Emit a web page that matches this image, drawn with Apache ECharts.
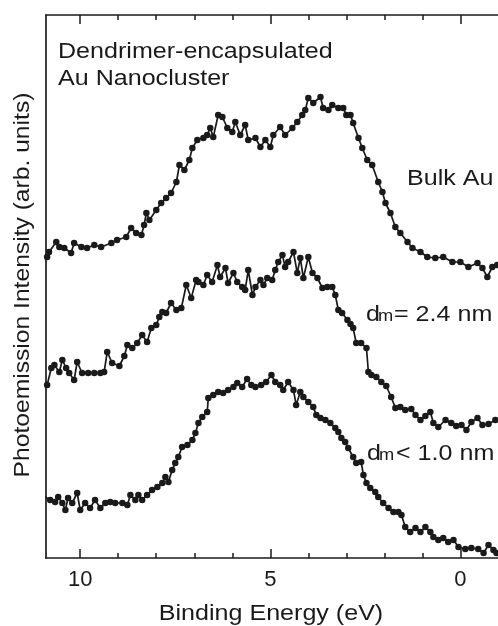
<!DOCTYPE html>
<html>
<head>
<meta charset="utf-8">
<script src="https://cdn.jsdelivr.net/npm/echarts@6/dist/echarts.min.js"></script>
<style>
  html, body { margin: 0; padding: 0; background: #fff; }
  #chart { width: 498px; height: 626px; }
</style>
</head>
<body>
<div id="chart"></div>
<script>
// binding energy (eV) and intensity (arb. units)
const bulkE = [10.87,10.82,10.63,10.55,10.42,10.24,10.16,9.97,9.82,9.63,9.45,9.18,9.03,8.79,8.66,8.53,8.39,8.32,8.26,8.18,8.00,7.87,7.74,7.61,7.47,7.39,7.26,7.13,7.05,6.92,6.76,6.66,6.58,6.50,6.37,6.26,6.13,6.00,5.92,5.79,5.66,5.58,5.39,5.26,5.13,5.00,4.92,4.74,4.61,4.42,4.29,4.16,4.08,4.00,3.87,3.68,3.61,3.47,3.37,3.21,3.08,3.00,2.89,2.82,2.68,2.58,2.45,2.32,2.16,2.05,1.97,1.84,1.71,1.58,1.39,1.26,1.05,0.87,0.66,0.45,0.21,0.00,-0.21,-0.45,-0.58,-0.71,-0.84,-0.97];
const bulkI = [301,306,316,311,310,305,315,311,310,313,311,315,318,321,330,325,323,333,345,338,348,355,360,365,376,393,388,398,410,418,420,423,430,421,443,441,430,426,436,423,433,418,420,411,418,411,423,431,423,430,436,443,448,460,455,461,450,448,453,450,450,443,443,435,420,410,398,393,376,366,355,345,331,325,316,310,306,301,300,301,296,296,291,295,290,281,291,293];

const d24E = [10.87,10.76,10.68,10.55,10.47,10.37,10.29,10.16,10.08,9.95,9.79,9.63,9.47,9.37,9.29,9.16,8.97,8.84,8.76,8.63,8.50,8.37,8.24,8.13,8.00,7.92,7.84,7.74,7.61,7.47,7.34,7.21,7.08,6.95,6.89,6.76,6.66,6.53,6.39,6.32,6.18,6.11,5.97,5.87,5.74,5.66,5.58,5.47,5.39,5.26,5.18,5.08,4.95,4.87,4.79,4.68,4.61,4.53,4.39,4.29,4.21,4.13,4.00,3.89,3.76,3.63,3.50,3.37,3.29,3.21,3.11,2.97,2.89,2.82,2.74,2.61,2.47,2.42,2.34,2.21,2.08,1.95,1.82,1.71,1.58,1.45,1.29,1.18,1.05,0.92,0.79,0.71,0.58,0.39,0.24,0.11,-0.03,-0.16,-0.29,-0.45,-0.58,-0.74,-0.92];
const d24I = [173,190,193,186,198,190,185,178,196,185,185,185,185,186,206,195,192,202,213,210,215,223,216,230,233,241,246,245,255,248,250,273,260,278,276,273,283,276,293,281,290,275,285,276,271,268,288,263,271,278,273,280,278,288,296,303,291,296,306,285,300,280,301,285,280,270,271,271,263,248,245,238,234,230,215,215,210,186,183,181,176,172,161,150,151,148,149,143,138,142,146,135,131,138,135,132,133,128,136,140,133,134,138];

const d10E = [10.92,10.79,10.66,10.58,10.47,10.39,10.32,10.21,10.08,10.00,9.87,9.74,9.61,9.47,9.34,9.21,9.08,8.89,8.76,8.68,8.55,8.47,8.37,8.24,8.11,7.97,7.84,7.76,7.68,7.58,7.50,7.42,7.32,7.18,7.05,6.97,6.89,6.79,6.66,6.63,6.50,6.37,6.24,6.11,5.97,5.87,5.74,5.61,5.50,5.39,5.24,5.11,4.97,4.87,4.74,4.66,4.53,4.39,4.32,4.21,4.13,4.00,3.87,3.79,3.68,3.55,3.42,3.29,3.21,3.13,3.03,2.95,2.82,2.74,2.61,2.55,2.47,2.37,2.24,2.16,2.03,1.89,1.76,1.63,1.55,1.45,1.32,1.18,1.05,0.92,0.79,0.71,0.58,0.45,0.32,0.18,0.05,-0.13,-0.29,-0.47,-0.61,-0.74,-0.87,-0.95];
const d10I = [61,58,56,61,55,48,60,55,65,48,55,50,58,50,55,56,55,55,53,63,58,63,58,63,68,71,75,81,76,88,95,101,111,113,118,125,135,141,146,160,163,166,165,168,171,175,171,179,173,171,173,176,183,176,173,168,176,168,153,166,161,156,151,143,140,138,135,130,126,120,116,110,101,95,96,83,75,70,66,61,55,50,46,46,43,31,26,30,26,31,26,21,18,20,16,18,11,9,10,9,5,13,8,5];

const majorTicks = [0, 5, 10];
const minorTicks = [1, 2, 3, 4, 6, 7, 8, 9];

const INK = "#1a1a1a";
const FONT = "Liberation Sans";

function pairs(xs, ys) {
  return xs.map((x, i) => [x, ys[i]]);
}

function curve(name, xs, ys) {
  return {
    name: name,
    type: "line",
    data: pairs(xs, ys),
    symbol: "circle",
    symbolSize: 6.5,
    showSymbol: true,
    lineStyle: { color: INK, width: 1.7 },
    itemStyle: { color: INK },
    clip: true,
  };
}

// same frame twice: grid 0 carries the data and major ticks, grid 1 only the minor ticks
const frame = { left: 46, right: 0, top: 15, bottom: 68 };

// 10.9 eV on the left, reversed, frame runs off the right edge
function xAxisOf(grid, pos, major) {
  return {
    type: "value",
    gridIndex: grid,
    position: pos,
    min: -0.99,
    max: 10.9,
    inverse: true,
    splitLine: { show: false },
    axisLine: { show: major, onZero: false, lineStyle: { color: INK, width: 1.7 } },
    axisTick: {
      show: true,
      inside: true,
      length: major ? 9 : 5,
      customValues: major ? majorTicks : minorTicks,
      lineStyle: { color: INK, width: 1.5 },
    },
    axisLabel: {
      show: major && pos === "bottom",
      customValues: majorTicks,
      fontSize: 22,
      fontFamily: FONT,
      color: INK,
      margin: 11,
    },
  };
}

function yAxisOf(grid, show) {
  return {
    type: "value",
    gridIndex: grid,
    min: 0,
    max: 543,
    axisLine: { show: show, onZero: false, lineStyle: { color: INK, width: 1.7 } },
    axisTick: { show: false },
    axisLabel: { show: false },
    splitLine: { show: false },
  };
}

function label(text, x, y, size, opts) {
  return Object.assign({
    type: "text",
    x: x,
    y: y,
    scaleX: 1.14,
    style: {
      text: text,
      fontSize: size,
      fontFamily: FONT,
      fill: INK,
      textAlign: "left",
      textVerticalAlign: "middle",
    },
  }, opts || {});
}

const chart = echarts.init(document.getElementById("chart"));
chart.setOption({
  animation: false,
  backgroundColor: "#fff",
  grid: [frame, frame],
  xAxis: [
    xAxisOf(0, "bottom", true),
    xAxisOf(0, "top", true),
    xAxisOf(1, "bottom", false),
    xAxisOf(1, "top", false),
  ],
  yAxis: [yAxisOf(0, true), yAxisOf(1, false)],
  series: [
    curve("Bulk Au", bulkE, bulkI),
    curve("dm = 2.4 nm", d24E, d24I),
    curve("dm < 1.0 nm", d10E, d10I),
  ],
  graphic: [
    label("Dendrimer-encapsulated", 58, 52, 22),
    label("Au Nanocluster", 58, 79, 22),
    label("Bulk Au", 407, 179, 22),
    label("d", 366, 315, 22),
    label("m", 378, 317, 16),
    label("= 2.4 nm", 394, 315, 22),
    label("d", 367, 454, 22),
    label("m", 379, 456, 16),
    label("< 1.0 nm", 396, 454, 22),
    label("Binding Energy (eV)", 271, 614, 22, {
      style: { text: "Binding Energy (eV)", fontSize: 22, fontFamily: FONT, fill: INK, textAlign: "center", textVerticalAlign: "middle" },
    }),
    label("Photoemission Intensity (arb. units)", 23, 285, 22, {
      rotation: Math.PI / 2,
      scaleX: 1.12,
      style: { text: "Photoemission Intensity (arb. units)", fontSize: 22, fontFamily: FONT, fill: INK, textAlign: "center", textVerticalAlign: "middle" },
    }),
  ],
});
</script>
</body>
</html>
